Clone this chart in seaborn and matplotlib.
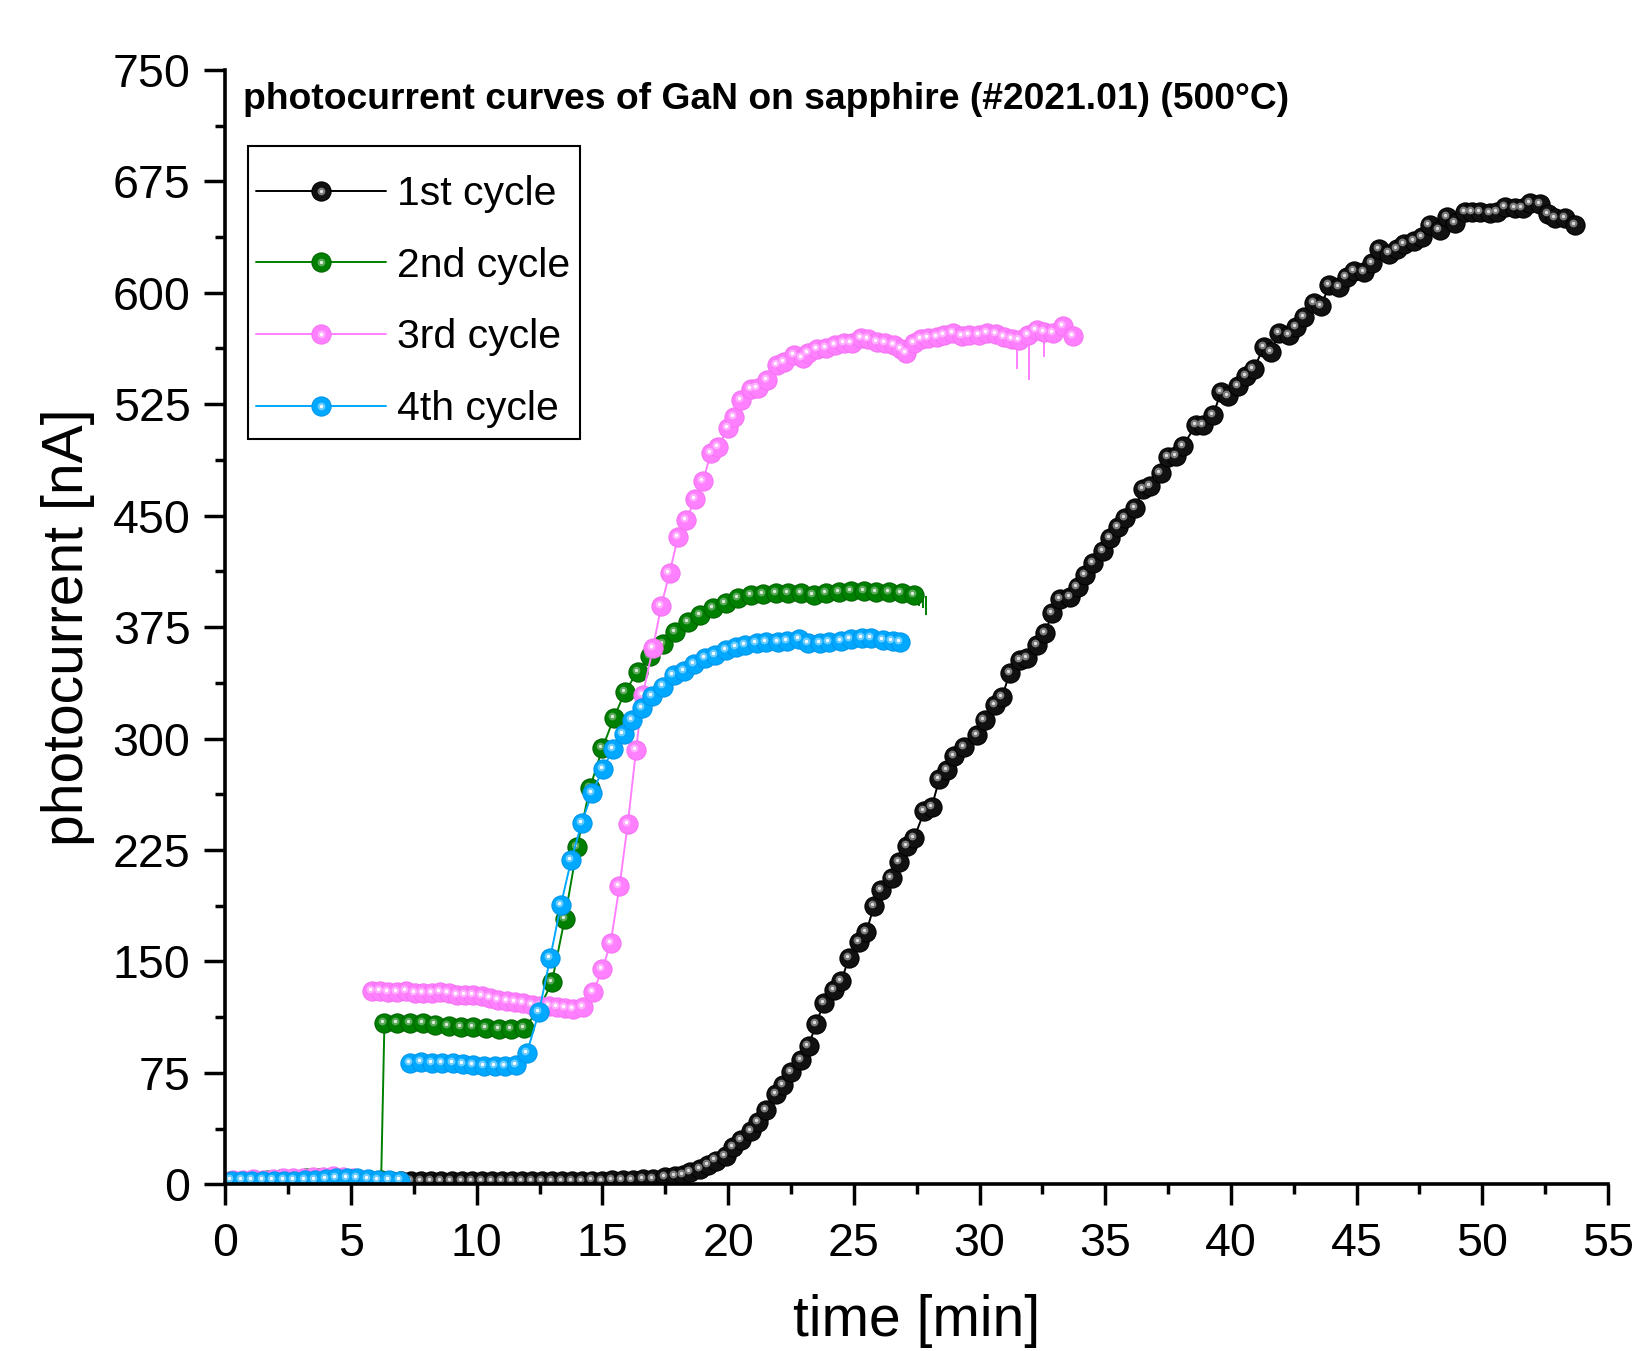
import matplotlib
matplotlib.use('Agg')
import numpy as np
import pandas as pd
import matplotlib.pyplot as plt
import matplotlib.transforms as mtransforms
from matplotlib.lines import Line2D
from matplotlib.patches import Rectangle
from matplotlib.legend_handler import HandlerTuple
from matplotlib.ticker import MultipleLocator
import seaborn as sns

# ---------------- data ----------------
black_time = [
    0.2, 0.6, 1.0, 1.4, 1.8, 2.2, 2.6, 3.0, 3.4, 3.8,
    4.2, 4.6, 5.0, 5.4, 5.8, 6.2, 6.6, 7.0, 7.4, 7.8,
    8.2, 8.6, 9.0, 9.4, 9.8, 10.2, 10.6, 11.0, 11.4, 11.8,
    12.2, 12.6, 13.0, 13.4, 13.8, 14.2, 14.6, 15.0, 15.4, 15.8,
    16.2, 16.6, 17.0, 17.5, 17.9, 18.2, 18.5, 18.9, 19.2, 19.5,
    19.9, 20.2, 20.5, 20.9, 21.2, 21.5, 21.9, 22.2, 22.5, 22.9,
    23.2, 23.5, 23.8, 24.2, 24.5, 24.8, 25.2, 25.5, 25.8, 26.1,
    26.5, 26.8, 27.1, 27.4, 27.8, 28.1, 28.4, 28.7, 29.0, 29.4,
    29.9, 30.2, 30.6, 30.9, 31.2, 31.6, 31.9, 32.3, 32.6, 32.9,
    33.2, 33.6, 33.9, 34.2, 34.5, 34.9, 35.2, 35.5, 35.8, 36.2,
    36.5, 36.8, 37.2, 37.5, 37.8, 38.1, 38.6, 38.9, 39.3, 39.6,
    39.9, 40.3, 40.6, 40.9, 41.3, 41.6, 41.9, 42.3, 42.6, 42.9,
    43.3, 43.6, 43.9, 44.3, 44.6, 44.9, 45.3, 45.6, 45.9, 46.3,
    46.6, 46.9, 47.3, 47.6, 47.9, 48.3, 48.6, 48.9, 49.3, 49.6,
    49.9, 50.3, 50.6, 50.9, 51.3, 51.6, 51.9, 52.3, 52.6, 52.9,
    53.3, 53.7]
black_current = [
    1.5, 1.6, 1.8, 1.6, 1.9, 2.0, 1.8, 2.1, 1.9, 2.0,
    2.2, 2.0, 1.9, 2.1, 2.0, 1.8, 2.0, 2.2, 2.0, 2.1,
    1.9, 2.0, 2.2, 2.1, 2.0, 2.2, 2.1, 2.3, 2.2, 2.1,
    2.3, 2.2, 2.4, 2.3, 2.2, 2.4, 2.5, 2.4, 2.6, 2.8,
    3.0, 3.3, 3.8, 4.6, 5.8, 6.5, 8.0, 10.5, 13.0, 16.0,
    19.0, 25.0, 30.0, 35.9, 41.6, 50.0, 60.8, 66.8, 75.3, 83.6,
    93.3, 107.7, 122.0, 130.5, 136.6, 152.0, 163.0, 169.7, 187.3, 198.0,
    206.0, 217.0, 227.6, 233.0, 251.0, 254.0, 272.6, 278.6, 288.2, 294.0,
    302.4, 312.5, 322.6, 328.2, 343.9, 352.8, 354.0, 363.0, 370.8, 384.7,
    393.6, 395.4, 402.2, 410.0, 417.9, 426.4, 434.7, 442.1, 448.1, 455.3,
    467.6, 470.1, 478.4, 489.6, 490.0, 497.0, 511.0, 511.0, 517.7, 533.4,
    530.5, 537.2, 543.9, 548.4, 563.2, 560.3, 572.6, 571.5, 577.1, 583.4,
    593.3, 591.0, 605.2, 603.6, 610.8, 614.8, 614.1, 619.7, 629.1, 626.4,
    629.1, 632.7, 635.0, 637.7, 645.5, 642.2, 651.1, 646.6, 654.5, 654.5,
    654.5, 653.8, 654.5, 657.9, 656.8, 656.8, 660.1, 659.7, 653.0, 650.0,
    650.5, 645.5]

green_time = [
    0.2, 0.7, 1.2, 1.7, 2.2, 2.7, 3.2, 3.7, 4.2, 4.7,
    5.2, 5.7, 6.2, 6.33, 6.85, 7.35, 7.85, 8.34, 8.88, 9.38,
    9.87, 10.37, 10.88, 11.37, 11.89, 12.45, 12.99, 13.5, 14.0, 14.5,
    15.0, 15.45, 15.9, 16.4, 16.9, 17.4, 17.9, 18.4, 18.9, 19.4,
    19.9, 20.4, 20.9, 21.4, 21.9, 22.4, 22.9, 23.4, 23.9, 24.4,
    24.9, 25.4, 25.9, 26.4, 26.9, 27.4]
green_current = [
    2.5, 2.5, 3.0, 3.0, 3.5, 3.5, 4.5, 4.0, 3.5, 3.5,
    3.0, 3.0, 3.0, 108.3, 108.8, 108.3, 108.3, 107.5, 106.8, 106.1,
    106.1, 105.2, 104.7, 104.5, 104.9, 117.0, 135.8, 178.5, 227.2, 266.5,
    293.4, 313.6, 331.5, 345.0, 355.5, 363.5, 371.5, 378.3, 383.2, 387.5,
    391.3, 394.8, 396.5, 397.2, 397.6, 397.6, 397.6, 396.5, 398.0, 398.7,
    399.2, 399.2, 398.5, 398.5, 398.0, 396.5]
green_spike_time = [27.6, 27.75, 27.87]
green_spike_low = [389.0, 388.0, 383.0]
green_spike_high = [398.0, 397.0, 396.0]

pink_time = [
    0.3, 0.7, 1.1, 1.5, 1.9, 2.3, 2.7, 3.1, 3.5, 3.9,
    4.3, 4.7, 5.1, 5.83, 6.16, 6.49, 6.85, 7.19, 7.55, 7.88,
    8.21, 8.54, 8.88, 9.21, 9.54, 9.87, 10.2, 10.53, 10.86, 11.2,
    11.53, 11.86, 12.19, 12.52, 12.86, 13.19, 13.52, 13.85, 14.22, 14.64,
    15.0, 15.33, 15.68, 16.01, 16.34, 16.6, 17.01, 17.34, 17.67, 18.01,
    18.32, 18.7, 19.0, 19.31, 19.59, 20.0, 20.23, 20.53, 20.91, 21.17,
    21.56, 21.93, 22.23, 22.63, 22.96, 23.19, 23.54, 23.91, 24.26, 24.61,
    24.91, 25.28, 25.58, 25.93, 26.24, 26.59, 26.89, 27.08, 27.39, 27.69,
    27.96, 28.3, 28.6, 28.94, 29.29, 29.59, 29.98, 30.31, 30.66, 30.97,
    31.28, 31.58, 31.93, 32.27, 32.58, 32.91, 33.31, 33.72]
pink_current = [
    3.0, 3.0, 3.5, 3.0, 3.5, 4.0, 4.5, 4.5, 5.0, 5.0,
    5.5, 5.0, 4.5, 130.0, 130.3, 129.6, 129.6, 130.3, 129.0, 129.0,
    129.0, 129.6, 128.5, 127.4, 127.4, 127.4, 126.7, 125.2, 124.0, 123.6,
    122.9, 121.8, 120.6, 120.2, 119.9, 119.5, 118.4, 117.7, 119.5, 129.6,
    144.9, 162.6, 200.7, 242.5, 292.3, 329.3, 360.7, 389.3, 411.2, 435.8,
    447.0, 461.0, 473.0, 491.9, 496.4, 508.7, 516.6, 527.8, 535.0, 535.7,
    541.3, 551.3, 553.6, 558.1, 556.0, 559.6, 561.9, 563.0, 564.8, 565.9,
    566.4, 569.3, 568.6, 567.0, 566.4, 564.8, 561.9, 559.2, 565.9, 568.6,
    569.3, 570.0, 571.5, 572.6, 570.8, 571.5, 571.5, 572.6, 572.2, 570.4,
    568.6, 568.1, 571.5, 574.8, 573.7, 573.0, 577.5, 570.8]
pink_break_index = 13
pink_spike_time = [31.49, 31.95, 32.55]
pink_spike_low = [549.0, 541.0, 557.0]
pink_spike_high = [568.0, 571.0, 574.0]

blue_time = [
    0.25, 0.66, 1.08, 1.5, 1.92, 2.33, 2.75, 3.17, 3.58, 4.0,
    4.42, 4.83, 5.25, 5.67, 6.08, 6.5, 6.95, 7.35, 7.78, 8.21,
    8.64, 9.05, 9.47, 9.87, 10.29, 10.73, 11.13, 11.57, 11.99, 12.48,
    12.92, 13.35, 13.76, 14.18, 14.58, 15.02, 15.41, 15.84, 16.17, 16.57,
    16.97, 17.4, 17.83, 18.24, 18.63, 19.08, 19.48, 19.92, 20.3, 20.68,
    21.13, 21.52, 21.97, 22.35, 22.81, 23.19, 23.65, 24.03, 24.48, 24.87,
    25.32, 25.7, 26.16, 26.54, 26.84]
blue_current = [
    2.5, 2.5, 2.5, 2.5, 2.5, 2.5, 2.5, 3.0, 3.0, 3.5,
    4.0, 4.5, 4.0, 3.5, 3.0, 3.0, 2.5, 81.4, 82.1, 81.9,
    81.9, 81.4, 81.0, 80.5, 79.8, 79.6, 79.8, 80.3, 88.2, 116.0,
    152.1, 188.2, 218.2, 243.3, 263.0, 279.3, 292.7, 303.0, 312.4, 320.3,
    328.5, 335.0, 343.0, 345.5, 350.4, 354.0, 356.0, 359.6, 361.5, 362.9,
    364.1, 365.2, 365.2, 365.9, 366.8, 364.5, 364.1, 365.2, 365.9, 366.8,
    367.5, 367.5, 366.4, 365.9, 365.2]
blue_break_index = 17

cycle_labels = ["1st cycle", "2nd cycle", "3rd cycle", "4th cycle"]
title_text = "photocurrent curves of GaN on sapphire (#2021.01) (500°C)"
x_label = "time [min]"
y_label = "photocurrent [nA]"

# ---------------- styles ----------------
styles = {
    "1st cycle": dict(line="#000000", face="#111111", edge="#000000", mid="#7a7a7a", core="#e0e0e0"),
    "2nd cycle": dict(line="#008000", face="#008000", edge="#006400", mid="#5aa85a", core="#dff0df"),
    "3rd cycle": dict(line="#ff80ff", face="#ff80ff", edge="#f474f4", mid="#ffb0ff", core="#ffffff"),
    "4th cycle": dict(line="#00a8ff", face="#00a8ff", edge="#0096ea", mid="#6accff", core="#ffffff"),
}


def make_frame(t, c, break_index=None):
    seg = [0] * len(t)
    if break_index is not None:
        seg = [0] * break_index + [1] * (len(t) - break_index)
    return pd.DataFrame({"time": t, "current": c, "segment": seg})


frames = {
    "1st cycle": make_frame(black_time, black_current),
    "2nd cycle": make_frame(green_time, green_current),
    "3rd cycle": make_frame(pink_time, pink_current, pink_break_index),
    "4th cycle": make_frame(blue_time, blue_current, blue_break_index),
}

sns.set_style("ticks", rc={"axes.edgecolor": "black", "xtick.color": "black",
                           "ytick.color": "black", "text.color": "black",
                           "axes.labelcolor": "black"})
plt.rcParams["font.family"] = ["Liberation Sans", "DejaVu Sans"]

fig = plt.figure(figsize=(16.36, 13.51), dpi=100)
ax = fig.add_axes([0.1377, 0.1234, 0.8452, 0.8249])

hl_trans = mtransforms.offset_copy(ax.transData, fig=fig, x=-1.5, y=1.5, units="points")

MS = 13.8
MID = 5.6
CORE = 2.4
z = 2
for lab in cycle_labels:
    df = frames[lab]
    st = styles[lab]
    sns.lineplot(data=df, x="time", y="current", units="segment", estimator=None,
                 sort=False, color=st["line"], linewidth=1.4, ax=ax, legend=False,
                 zorder=z)
    sns.scatterplot(data=df, x="time", y="current", s=MS ** 2, color=st["face"],
                    edgecolor=st["edge"], linewidth=0.8, ax=ax, legend=False,
                    zorder=z + 0.1)
    sns.scatterplot(data=df, x="time", y="current", s=MID ** 2, color=st["mid"],
                    linewidth=0, ax=ax, legend=False, zorder=z + 0.2,
                    transform=hl_trans)
    sns.scatterplot(data=df, x="time", y="current", s=CORE ** 2, color=st["core"],
                    linewidth=0, ax=ax, legend=False, zorder=z + 0.3,
                    transform=hl_trans)
    z += 1

ax.vlines(green_spike_time, green_spike_low, green_spike_high,
          color=styles["2nd cycle"]["line"], linewidth=1.4, zorder=3)
ax.vlines(pink_spike_time, pink_spike_low, pink_spike_high,
          color=styles["3rd cycle"]["line"], linewidth=1.4, zorder=4)

ax.set_xlim(0, 55)
ax.set_ylim(0, 750)
ax.xaxis.set_major_locator(MultipleLocator(5))
ax.xaxis.set_minor_locator(MultipleLocator(2.5))
ax.yaxis.set_major_locator(MultipleLocator(75))
ax.yaxis.set_minor_locator(MultipleLocator(37.5))

for side in ["top", "right"]:
    ax.spines[side].set_visible(False)
for side in ["left", "bottom"]:
    ax.spines[side].set_linewidth(2.6)
    ax.spines[side].set_zorder(10)

ax.tick_params(axis="both", which="major", direction="out", length=15, width=2.5,
               labelsize=33.5)
ax.tick_params(axis="both", which="minor", direction="out", length=7.5, width=2.5)
ax.tick_params(axis="x", which="major", pad=12)
ax.tick_params(axis="y", which="major", pad=10)

ax.set_xlabel(x_label, fontsize=41)
ax.set_ylabel(y_label, fontsize=41)
ax.xaxis.label.set_verticalalignment("bottom")
ax.xaxis.set_label_coords(0.5, -0.1465)
ax.yaxis.set_label_coords(-0.094, 0.5)

ax.text(0.013, 0.9735, title_text, transform=ax.transAxes, fontsize=26.8,
        fontweight="bold", va="center", ha="left")

# legend frame drawn separately so the inner spacing can match the reference
ax.add_patch(Rectangle((0.0166, 0.6685), 0.2400, 0.2631, transform=ax.transAxes,
                       facecolor="white", edgecolor="black", linewidth=1.5,
                       zorder=20, clip_on=False))

handles = []
for lab in cycle_labels:
    st = styles[lab]
    h1 = Line2D([], [], color=st["line"], linewidth=1.4, marker="o", markersize=MS,
                markerfacecolor=st["face"], markeredgecolor=st["edge"], markeredgewidth=0.8)
    h2 = Line2D([], [], linestyle="none", marker="o", markersize=MID,
                markerfacecolor=st["mid"], markeredgecolor="none")
    h3 = Line2D([], [], linestyle="none", marker="o", markersize=CORE,
                markerfacecolor=st["core"], markeredgecolor="none")
    handles.append((h1, h2, h3))

leg = ax.legend(handles, cycle_labels,
                handler_map={tuple: HandlerTuple(ndivide=1, pad=0)},
                loc="upper left", bbox_to_anchor=(0.022, 0.9056), borderaxespad=0,
                fontsize=29.5, handlelength=3.17, handletextpad=0.28,
                labelspacing=0.82, borderpad=0, frameon=False, numpoints=1)
leg.set_zorder(21)

fig.savefig("out.png", dpi=100)
